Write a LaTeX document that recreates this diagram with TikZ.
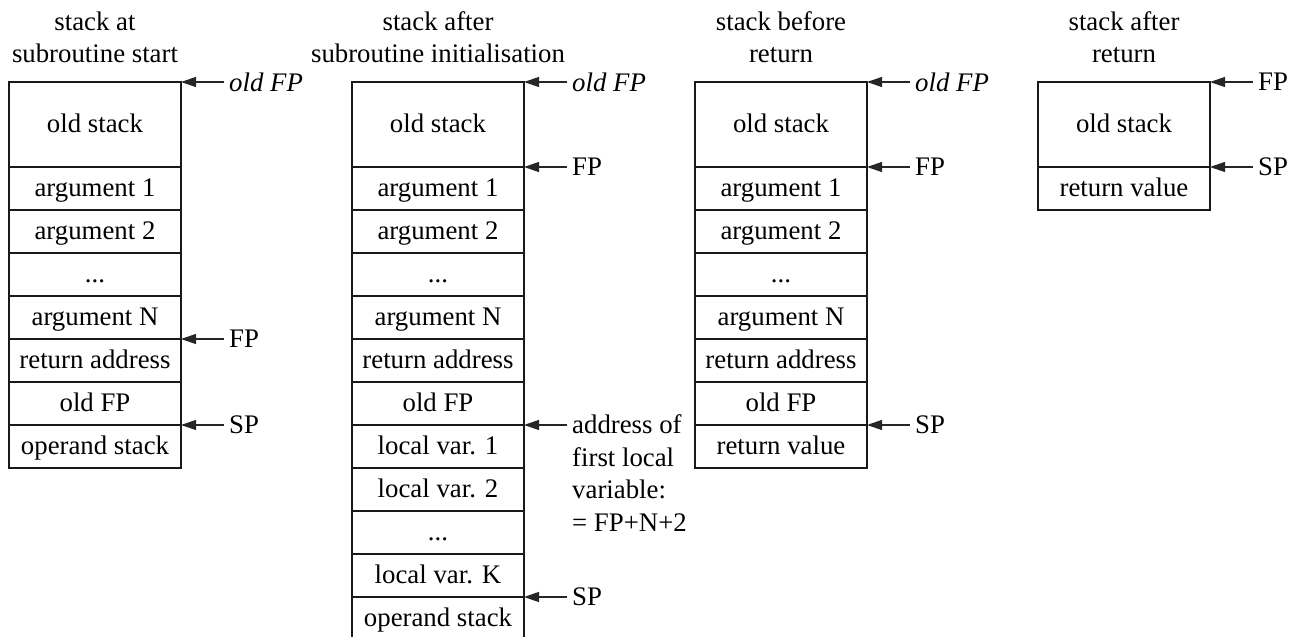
\documentclass[tikz,border=0pt]{standalone}
\usepackage{fontspec}
\setmainfont{Liberation Serif}
\usetikzlibrary{arrows.meta,positioning,calc}
\newcommand\stkptr[3]{%
  \coordinate (#1t) at ([xshift=43pt]#2);
  \draw[ptr] (#1t) -- (#2);
  \node[lab] (#1l) at (#1t) {#3};}
\begin{document}
\begin{tikzpicture}[x=1pt,y=-1pt,
  font=\fontsize{26.8}{32}\selectfont,
  cell/.style={draw=black!90, line width=1.2pt, minimum width=172pt, minimum height=43pt,
    inner sep=0pt, outer sep=0pt, anchor=north, text height=19.5pt, text depth=3pt},
  big/.style={cell, minimum height=85pt},
  ptr/.style={draw=black!85, line width=1.2pt, -{Triangle[length=15pt,width=10pt]}},
  lab/.style={anchor=west, inner sep=0pt, xshift=5pt},
  title/.style={anchor=south, align=center, inner sep=0pt},
  node distance=0pt]
\useasboundingbox (0,0) rectangle (1299,637);

% column 1
\node[title] (ta) at (95,63) {stack at\\subroutine start};
\node[big] (a0) at (95,82) {old stack};
\node[cell, below=of a0] (a1) {argument 1};
\node[cell, below=of a1] (a2) {argument 2};
\node[cell, below=of a2] (a3) {...};
\node[cell, below=of a3] (a4) {argument N};
\node[cell, below=of a4] (a5) {return address};
\node[cell, below=of a5] (a6) {old FP};
\node[cell, below=of a6] (a7) {operand stack};
\stkptr{pa1}{a0.north east}{\textit{old FP}}
\stkptr{pa2}{a4.south east}{FP}
\stkptr{pa3}{a6.south east}{SP}

% column 2
\node[title] (tb) at (438,63) {stack after\\subroutine initialisation};
\node[big] (b0) at (438,82) {old stack};
\node[cell, below=of b0] (b1) {argument 1};
\node[cell, below=of b1] (b2) {argument 2};
\node[cell, below=of b2] (b3) {...};
\node[cell, below=of b3] (b4) {argument N};
\node[cell, below=of b4] (b5) {return address};
\node[cell, below=of b5] (b6) {old FP};
\node[cell, below=of b6] (b7) {local var. 1};
\node[cell, below=of b7] (b8) {local var. 2};
\node[cell, below=of b8] (b9) {...};
\node[cell, below=of b9] (b10) {local var. K};
\node[cell, below=of b10] (b11) {operand stack};
\stkptr{pb1}{b0.north east}{\textit{old FP}}
\stkptr{pb2}{b0.south east}{FP}
\coordinate (pb3t) at ([xshift=43pt]b6.south east);
\draw[ptr] (pb3t) -- (b6.south east);
\node[anchor=north west, inner sep=0pt, align=left, font=\fontsize{26.8}{32.7}\selectfont]
  (pb3l) at ($(pb3t)+(5,-10.5)$) {address of\\first local\\variable:\\= FP+N+2};
\stkptr{pb4}{b10.south east}{SP}

% column 3
\node[title] (tc) at (781,63) {stack before\\return};
\node[big] (c0) at (781,82) {old stack};
\node[cell, below=of c0] (c1) {argument 1};
\node[cell, below=of c1] (c2) {argument 2};
\node[cell, below=of c2] (c3) {...};
\node[cell, below=of c3] (c4) {argument N};
\node[cell, below=of c4] (c5) {return address};
\node[cell, below=of c5] (c6) {old FP};
\node[cell, below=of c6] (c7) {return value};
\stkptr{pc1}{c0.north east}{\textit{old FP}}
\stkptr{pc2}{c0.south east}{FP}
\stkptr{pc3}{c6.south east}{SP}

% column 4
\node[title] (td) at (1124,63) {stack after\\return};
\node[big] (d0) at (1124,82) {old stack};
\node[cell, below=of d0] (d1) {return value};
\stkptr{pd1}{d0.north east}{FP}
\stkptr{pd2}{d0.south east}{SP}
\end{tikzpicture}
\end{document}
